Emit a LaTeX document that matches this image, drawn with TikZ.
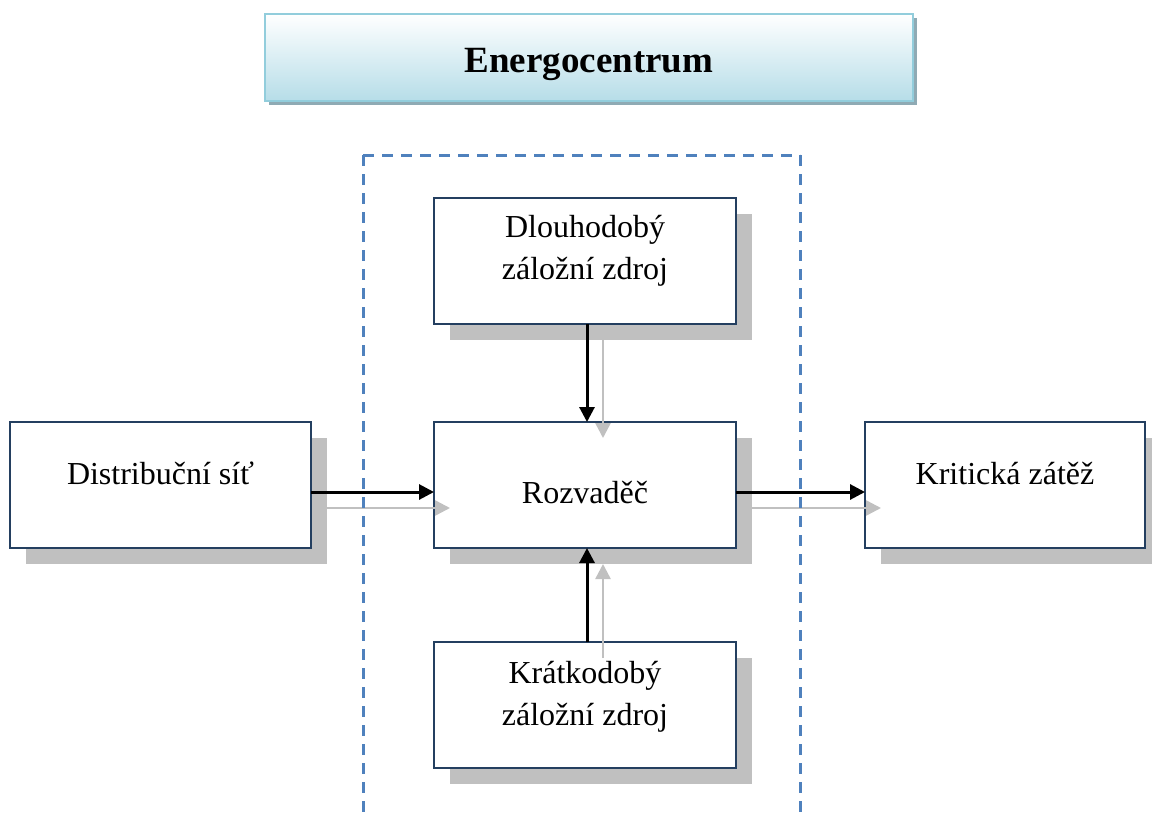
\documentclass[tikz,border=0pt]{standalone}
\usepackage{fontspec}
\setmainfont{Liberation Serif}
\usetikzlibrary{arrows.meta,shadows}

\definecolor{okraj}{RGB}{36,63,96}
\definecolor{stin}{RGB}{192,192,192}
\definecolor{carky}{RGB}{79,129,189}
\definecolor{nadpismodra}{RGB}{182,221,232}
\definecolor{nadpisokraj}{RGB}{146,205,220}
\definecolor{nadpisstin}{RGB}{143,170,180}

\begin{document}
\begin{tikzpicture}[x=0.5pt,y=-0.5pt,
        blok/.style={draw=okraj,line width=1pt,fill=white,inner sep=0pt,outer sep=0pt,
                minimum height=63pt,
                drop shadow={shadow xshift=8pt,shadow yshift=-8pt,fill=stin,opacity=1}},
        popis/.style={font=\fontsize{16pt}{21pt}\selectfont,align=center,inner sep=0pt},
        sipka/.style={line width=1.5pt,-{Triangle[length=7.5pt,width=7.5pt]}},
        sipkastin/.style={draw=stin,line width=1.25pt,-{Triangle[length=7.5pt,width=7.5pt]}}]
        \useasboundingbox (0,0) rectangle (1152,814);

        % nadpis
        \node[draw=nadpisokraj,line width=1pt,top color=white,bottom color=nadpismodra,
                minimum width=324pt,minimum height=43.5pt,inner sep=0pt,
                drop shadow={shadow xshift=2pt,shadow yshift=-2pt,fill=nadpisstin,opacity=1}]
                (nadpis) at (589,57.5) {};
        \node[anchor=base,inner sep=0pt,font=\fontsize{18.5pt}{22pt}\selectfont\bfseries]
                (nadpistext) at (589,72) {Energocentrum};

        % bloky
        \node[blok,minimum width=151pt] (dlouho) at (585,261) {};
        \node[blok,minimum width=151pt] (rozv) at (585,485) {};
        \node[blok,minimum width=151pt] (kratko) at (585,705) {};
        \node[blok,minimum width=150.5pt] (sit) at (160.5,485) {};
        \node[blok,minimum width=140pt] (zatez) at (1005,485) {};

        \node[popis] (dlouhotext) at (585,251) {Dlouhodobý\\záložní zdroj};
        \node[popis] (kratkotext) at (585,696.5) {Krátkodobý\\záložní zdroj};
        \node[popis,anchor=base] (rozvtext) at (585,503) {Rozvaděč};
        \node[popis,anchor=base] (sittext) at (160.5,484) {Distribuční síť};
        \node[popis,anchor=base] (zateztext) at (1005,484) {Kritická zátěž};

        % stiny sipek
        \draw[sipkastin] ([shift={(16,23)}]sit.east) -- ([shift={(16,23)}]rozv.west);
        \draw[sipkastin] ([shift={(16,23)}]rozv.east) -- ([shift={(16,23)}]zatez.west);
        \draw[sipkastin] ([shift={(18,16)}]dlouho.south) -- ([shift={(18,16)}]rozv.north);
        \draw[sipkastin] ([shift={(18,16)}]kratko.north) -- ([shift={(18,16)}]rozv.south);

        % hranice energocentra
        \draw[carky,line width=1.5pt,dash pattern=on 5.5pt off 4pt] (363,155) -- (800,155);
        \draw[carky,line width=1.5pt,dash pattern=on 5.5pt off 4pt] (363,155) -- (363,814);
        \draw[carky,line width=1.5pt,dash pattern=on 5.5pt off 4pt] (800,155) -- (800,814);

        % sipky
        \draw[sipka] ([yshift=-3.5pt]sit.east) -- ([yshift=-3.5pt]rozv.west);
        \draw[sipka] ([yshift=-3.5pt]rozv.east) -- ([yshift=-3.5pt]zatez.west);
        \draw[sipka] ([xshift=1pt]dlouho.south) -- ([xshift=1pt]rozv.north);
        \draw[sipka] ([xshift=1pt]kratko.north) -- ([xshift=1pt]rozv.south);
      \end{tikzpicture}
\end{document}
